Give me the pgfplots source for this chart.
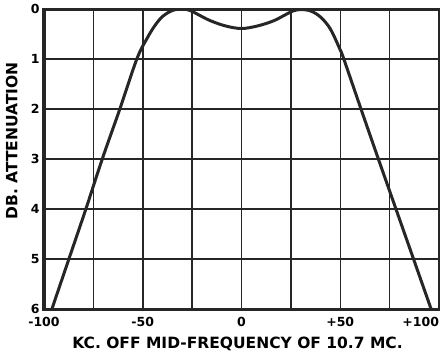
\documentclass[border=0pt]{standalone}
\usepackage{pgfplots}
\pgfplotsset{compat=1.18}
\usepackage{fontspec}
\setmainfont{DejaVu Sans}
\begin{document}
\begin{tikzpicture}
\begin{axis}[name=ax, scale only axis, width=395pt, height=300pt,
  xmin=-100, xmax=100, ymin=0, ymax=6, y dir=reverse,
  xtick={-100,-75,...,100}, xticklabels={-100,,-50,,0,,+50,,\makebox[0pt][r]{+100}},
  ytick={0,1,2,3,4,5,6},
  major tick length=0pt,
  grid=major, major grid style={black!85, line width=1.5pt},
  axis line style={black!85, line width=3pt},
  /pgf/number format/assume math mode=true,
  tick label style={font=\bfseries\fontsize{12.5}{13}\selectfont},
  xticklabel style={yshift=-4.5pt},
  yticklabel style={xshift=-1pt},
  label style={font=\bfseries\fontsize{15.5}{16}\selectfont},
  xlabel={KC. OFF MID-FREQUENCY OF 10.7 MC.},
  ylabel={DB. ATTENUATION},
  xlabel style={at={(axis description cs:0.49,-0.115)}, anchor=center},
  ylabel style={at={(axis description cs:-0.082,0.56)}, anchor=center},
]
\addplot[black!85, line width=3pt, smooth, tension=0.55] coordinates {
(-96,6) (-87.4,5) (-78.8,4) (-70.5,3) (-61.6,2) (-53,1) (-48,0.6) (-44,0.34)
(-40,0.15) (-35,0.03) (-30,0) (-26,0.03) (-22,0.11) (-16,0.23) (-8,0.34) (0,0.39)
(8,0.34) (16,0.24) (22,0.12) (26,0.04) (30,0.01) (35,0.04) (40,0.16) (45,0.4)
(50,0.82) (51.8,1) (60.5,2) (69.3,3) (78.2,4) (87.1,5) (96,6)
};
\end{axis}
\pgfresetboundingbox
\path ([shift={(-44pt,-45pt)}]ax.south west) rectangle ([shift={(1pt,9pt)}]ax.north east);
\end{tikzpicture}
\end{document}
